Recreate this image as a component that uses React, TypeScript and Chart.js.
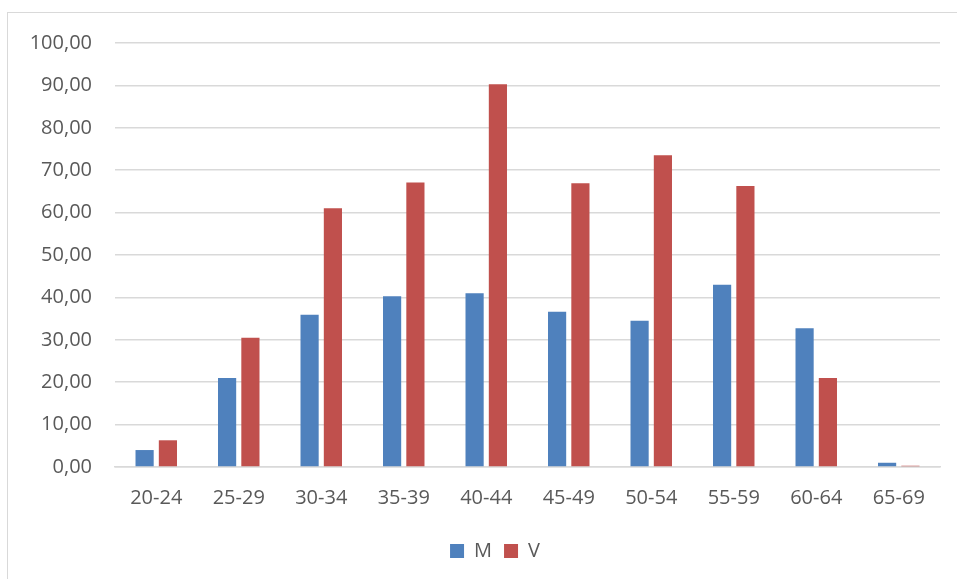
import React, { useEffect, useRef } from "react";
import { Chart, registerables } from "chart.js";

Chart.register(...registerables);

const categories = ["20-24", "25-29", "30-34", "35-39", "40-44", "45-49", "50-54", "55-59", "60-64", "65-69"];
const seriesM = [4.0, 21.0, 35.9, 40.3, 41.0, 36.6, 34.5, 43.0, 32.7, 1.0];
const seriesV = [6.3, 30.5, 61.0, 67.1, 90.3, 66.9, 73.5, 66.3, 21.0, 0.3];
const yMin = 0;
const yMax = 100;
const yStep = 10;

const FONT = "'Open Sans', 'Noto Sans', sans-serif";
const TEXT = "#595959";
const GRID = "#d9d9d9";

const legendShift = {
  id: "legendShift",
  afterLayout(chart: any) {
    const l = chart.legend;
    if (l) {
      l.left += 25;
      l.right += 25;
    }
  },
};

export default function App() {
  const ref = useRef<HTMLCanvasElement | null>(null);

  useEffect(() => {
    if (!ref.current) return;
    const chart = new Chart(ref.current, {
      type: "bar",
      data: {
        labels: categories,
        datasets: [
          {
            label: "M",
            data: seriesM,
            backgroundColor: "#4F81BD",
            categoryPercentage: 0.565,
            barPercentage: 0.78,
          },
          {
            label: "V",
            data: seriesV,
            backgroundColor: "#C0504D",
            categoryPercentage: 0.565,
            barPercentage: 0.78,
          },
        ],
      },
      options: {
        responsive: false,
        animation: false,
        devicePixelRatio: 1,
        layout: { padding: { top: 43, right: 17, bottom: 8, left: 0 } },
        plugins: {
          legend: {
            position: "bottom",
            labels: {
              boxWidth: 14,
              boxHeight: 14,
              padding: 12,
              color: TEXT,
              font: { family: FONT, size: 20 },
            },
          },
          tooltip: { enabled: false },
        },
        scales: {
          x: {
            grid: { display: false, drawTicks: false },
            border: { display: true, color: GRID, width: 1.5 },
            ticks: { color: TEXT, font: { family: FONT, size: 20 }, padding: 19, maxRotation: 0 },
          },
          y: {
            min: yMin,
            max: yMax,
            grid: { color: GRID, lineWidth: 1.5, drawTicks: false },
            border: { display: false },
            ticks: {
              stepSize: yStep,
              color: TEXT,
              padding: 23,
              font: { family: FONT, size: 20 },
              callback: (v: any) => Number(v).toFixed(2).replace(".", ","),
            },
            afterFit: (scale: any) => {
              scale.width = 115;
            },
          },
        },
      },
      plugins: [legendShift],
    });
    return () => chart.destroy();
  }, []);

  return (
    <div
      style={{
        position: "fixed",
        left: 0,
        top: 0,
        width: 957,
        height: 579,
        overflow: "hidden",
        background: "#ffffff",
      }}
    >
      <div
        style={{
          position: "absolute",
          left: 7,
          top: 12,
          width: 1000,
          height: 1000,
          border: "1px solid #d9d9d9",
        }}
      />
      <canvas ref={ref} width={957} height={579} style={{ position: "absolute", left: 0, top: 0 }} />
    </div>
  );
}
